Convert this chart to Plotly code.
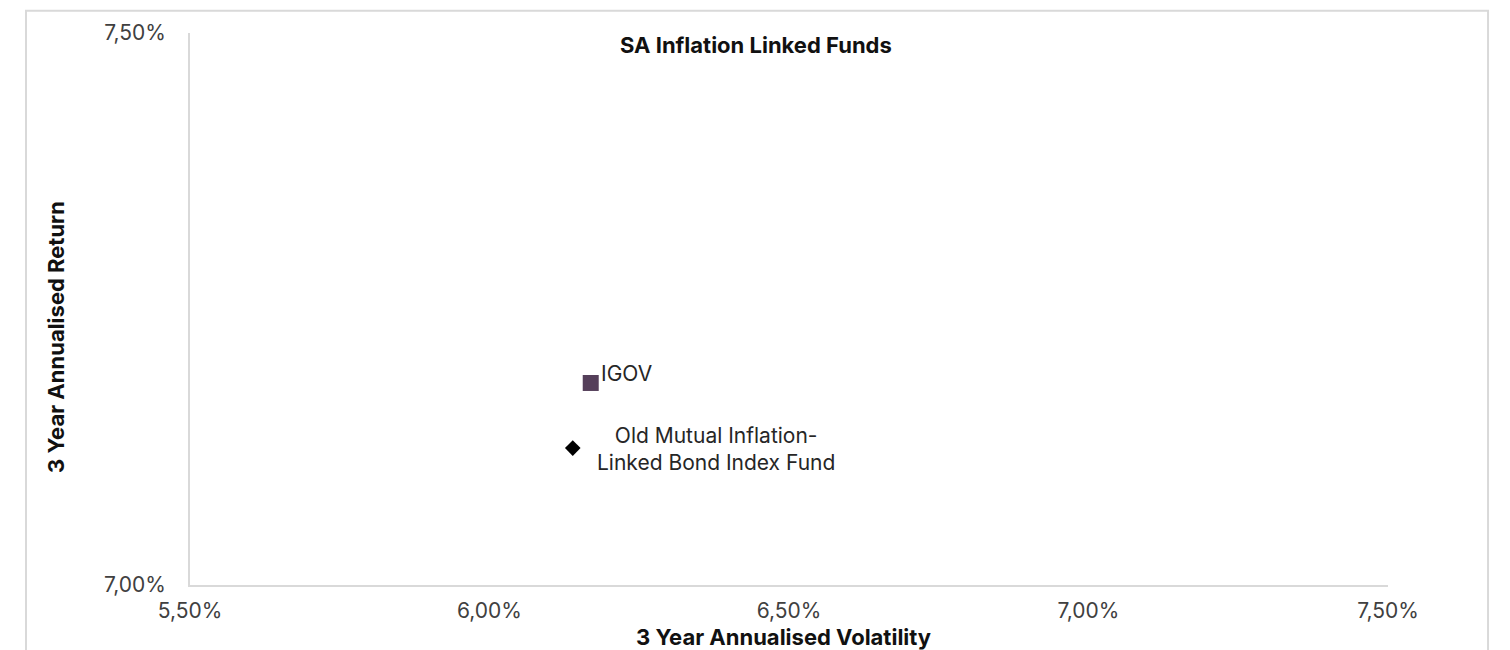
import plotly.graph_objects as go

funds = ["IGOV", "Old Mutual Inflation-<br>Linked Bond Index Fund"]
volatility = [0.06169, 0.06139]
returns = [0.07183, 0.07124]
symbols = ["square", "diamond"]
colors = ["#553f5a", "#000000"]
sizes = [16, 12]

FONT = "Inter, Noto Sans, sans-serif"

fig = go.Figure()
for i in range(len(funds)):
    fig.add_trace(go.Scatter(
        x=[volatility[i]], y=[returns[i]], mode="markers",
        marker=dict(symbol=symbols[i], color=colors[i], size=sizes[i], line=dict(width=0)),
        name=funds[i], showlegend=False, hoverinfo="skip"))

fig.add_annotation(x=volatility[0], y=returns[0], text=funds[0], showarrow=False,
                   xanchor="left", yanchor="middle", xshift=8, yshift=9,
                   font=dict(family=FONT, size=21, color="#262626"))
fig.add_annotation(x=volatility[1], y=returns[1], text=funds[1], showarrow=False,
                   xanchor="left", yanchor="middle", align="center", xshift=22, yshift=-1,
                   font=dict(family=FONT, size=21, color="#262626"))

# chart title
fig.add_annotation(xref="paper", yref="paper", x=0.4725, y=0.978, text="<b>SA Inflation Linked Funds</b>",
                   showarrow=False, xanchor="center", yanchor="middle",
                   font=dict(family=FONT, size=22, color="#111111"))
# axis titles
fig.add_annotation(xref="paper", yref="paper", x=-0.112, y=0.449, text="<b>3 Year Annualised Return</b>",
                   showarrow=False, textangle=-90, xanchor="center", yanchor="middle",
                   font=dict(family=FONT, size=22, color="#111111"))
fig.add_annotation(xref="paper", yref="paper", x=0.495, y=-0.094, text="<b>3 Year Annualised Volatility</b>",
                   showarrow=False, xanchor="center", yanchor="middle",
                   font=dict(family=FONT, size=22, color="#111111"))

# outer chart border
fig.add_shape(type="rect", xref="paper", yref="paper", x0=-0.1369, x1=1.0835, y0=-0.2, y1=1.0405,
              line=dict(color="#d9d9d9", width=2), fillcolor="rgba(0,0,0,0)", layer="below")

fig.update_layout(
    width=1502, height=642,
    margin=dict(l=182, r=122, t=23, b=65),
    paper_bgcolor="white", plot_bgcolor="white",
    separators=",.",
    font=dict(family=FONT, size=21, color="#404040"),
    xaxis=dict(range=[0.055, 0.075], tickvals=[0.055, 0.06, 0.065, 0.07, 0.075],
               tickformat=".2%", showgrid=False, zeroline=False, showline=True,
               linecolor="#d9d9d9", linewidth=2, ticks="", ticklen=0,
               ticklabelstandoff=6, tickfont=dict(size=21, color="#404040")),
    yaxis=dict(range=[0.07, 0.075], tickvals=[0.07, 0.075], tickformat=".2%",
               showgrid=False, zeroline=False, showline=True, linecolor="#d9d9d9",
               linewidth=2, ticks="", ticklen=0, ticklabelstandoff=18,
               tickfont=dict(size=21, color="#404040")),
)

fig.write_html("out.html")
